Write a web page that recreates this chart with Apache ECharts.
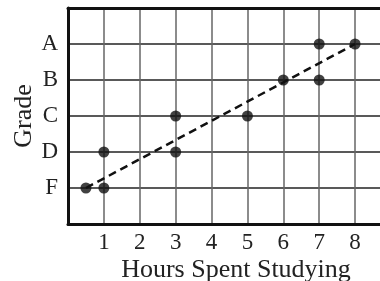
<!DOCTYPE html>
<html>
<head>
<meta charset="utf-8">
<script src="https://cdn.jsdelivr.net/npm/echarts@6/dist/echarts.min.js"></script>
<style>
  html, body { margin: 0; padding: 0; background: #fff; }
  #chart { width: 380px; height: 281px; }
</style>
</head>
<body>
<div id="chart"></div>
<script>
// grade scale: value -> letter
const gradeLetters = ['F', 'D', 'C', 'B', 'A']
const hours = [0.5, 1, 1, 3, 3, 5, 6, 7, 7, 8]
const grades = [0, 0, 1, 1, 2, 2, 3, 3, 4, 4]
const trendX = [0.5, 8]
const trendY = [0, 4]

const font = 'Liberation Serif, Times New Roman, serif'

var chart = echarts.init(document.getElementById('chart'))

var option = {
  backgroundColor: '#fff',
  animation: false,
  // right edge runs off the canvas, as in the source (no right border)
  grid: { left: 68, top: 8, right: -2, bottom: 57, outerBoundsMode: 'none' },
  xAxis: [
    {
      type: 'value',
      min: 0,
      max: 8.75,
      interval: 1,
      name: 'Hours Spent Studying',
      nameLocation: 'middle',
      nameGap: 33,
      nameMoveOverlap: false,
      nameTextStyle: { fontFamily: font, fontSize: 26, color: '#222', padding: [0, 0, 0, 22] },
      axisLine: { onZero: false, lineStyle: { color: '#111', width: 3 } },
      axisTick: { show: false },
      axisLabel: {
        fontFamily: font, fontSize: 23, color: '#222', margin: 7,
        formatter: function (v) { return (v >= 1 && v <= 8 && v % 1 === 0) ? String(v) : '' }
      },
      splitLine: { show: true, lineStyle: { color: '#666', width: 1.5 } }
    },
    {
      type: 'value',
      position: 'top',
      min: 0,
      max: 8.75,
      axisLine: { show: true, onZero: false, lineStyle: { color: '#111', width: 3 } },
      axisTick: { show: false },
      axisLabel: { show: false },
      splitLine: { show: false }
    }
  ],
  yAxis: {
    type: 'value',
    min: -1,
    max: 5,
    interval: 1,
    name: 'Grade',
    nameLocation: 'middle',
    nameGap: 31,
    nameMoveOverlap: false,
    nameTextStyle: { fontFamily: font, fontSize: 26, color: '#222' },
    axisLine: { show: true, onZero: false, lineStyle: { color: '#111', width: 3 } },
    axisTick: { show: false },
    axisLabel: {
      fontFamily: font, fontSize: 23, color: '#222', margin: 10,
      formatter: function (v) { return gradeLetters[v] || '' }
    },
    splitLine: { show: true, lineStyle: { color: '#222', width: 1.5 } }
  },
  series: [
    {
      type: 'line',
      data: trendX.map(function (x, i) { return [x, trendY[i]] }),
      symbol: 'none',
      lineStyle: { color: '#111', width: 2.5, type: [8, 5] },
      z: 3
    },
    {
      type: 'scatter',
      data: hours.map(function (h, i) { return [h, grades[i]] }),
      symbolSize: 11,
      itemStyle: { color: '#111' },
      z: 4
    }
  ]
}

chart.setOption(option)
</script>
</body>
</html>
